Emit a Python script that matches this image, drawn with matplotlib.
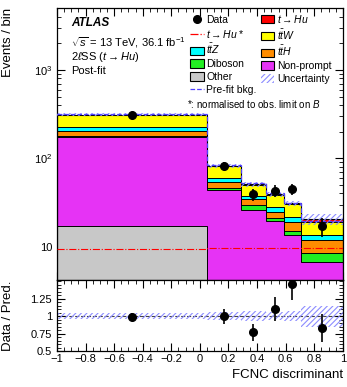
import matplotlib
matplotlib.use("Agg")
import matplotlib.pyplot as plt
import numpy as np
from matplotlib.lines import Line2D
from matplotlib.patches import Patch
from matplotlib.ticker import MultipleLocator, FixedLocator, FixedFormatter, LogLocator, NullFormatter

plt.rcParams["font.family"] = ["Liberation Sans", "DejaVu Sans"]
plt.rcParams["mathtext.fontset"] = "custom"
plt.rcParams["mathtext.rm"] = "Liberation Sans"
plt.rcParams["mathtext.it"] = "Liberation Sans:italic"
plt.rcParams["mathtext.bf"] = "Liberation Sans:bold"
plt.rcParams["hatch.linewidth"] = 0.8

# binning of the FCNC discriminant
edges = [-1.0, 0.05, 0.29, 0.46, 0.585, 0.71, 1.0]

# post-fit backgrounds (events / bin), stacked bottom -> top
other = [17, 2.5, 1.8, 1.5, 1.2, 1.0]
nonprompt = [155, 40.8, 24.1, 18.0, 12.4, 5.7]
diboson = [9, 3.4, 3.6, 1.4, 1.4, 1.7]
tth = [25, 7.3, 5.0, 3.9, 4.1, 3.5]
ttz = [21, 6.6, 3.4, 3.0, 2.3, 1.5]
ttw = [83, 20.5, 12.2, 10.4, 9.0, 5.6]
thu = [2.5, 1.2, 0.8, 0.8, 0.6, 1.6]

# signal normalised to observed limit, pre-fit background
thu_norm = [9.4, 9.7, 9.7, 9.7, 9.7, 9.7]
prefit = [315, 83, 52, 40, 31, 19.5]

# relative uncertainty of the total prediction
rel_unc = [0.04, 0.06, 0.065, 0.06, 0.07, 0.15]

data = [308, 82, 39, 43, 45, 17]

stack = [
    (other, "#c8c8c8", "Other"),
    (nonprompt, "#e633f5", "Non-prompt"),
    (diboson, "#22ee22", "Diboson"),
    (tth, "#ff8c00", r"$t\bar{t}H$"),
    (ttz, "#00ffff", r"$t\bar{t}Z$"),
    (ttw, "#ffff00", r"$t\bar{t}W$"),
    (thu, "#ff0000", r"$t\rightarrow Hu$"),
]

edges = np.array(edges)
centers = 0.5 * (edges[1:] + edges[:-1])
data = np.array(data, dtype=float)

fig = plt.figure(figsize=(3.47, 3.87), dpi=100)
ax = fig.add_axes([0.164, 0.2765, 0.824, 0.7025])
rax = fig.add_axes([0.164, 0.093, 0.824, 0.1835], sharex=ax)

bottom = np.full(len(centers), 1e-3)
for vals, col, lab in stack:
    top = bottom + np.array(vals)
    ax.stairs(top, edges, baseline=bottom, fill=True, facecolor=col,
              edgecolor="none", zorder=2)
    ax.stairs(top, edges, baseline=None, color="black", lw=0.7, zorder=3)
    bottom = top
total = bottom

# total outline with vertical steps
ax.stairs(total, edges, baseline=1e-3, fill=False, color="black", lw=0.8, zorder=3)

unc_col = "#8c8cff"
ax.stairs(total * (1 + np.array(rel_unc)), edges,
          baseline=total * (1 - np.array(rel_unc)), fill=True,
          facecolor="none", edgecolor=unc_col, hatch="//////", lw=0, zorder=4)
ax.stairs(prefit, edges, baseline=None, color="#5040ff", ls="--", lw=0.9, zorder=5)
ax.stairs(thu_norm, edges, baseline=None, color="#ff0000", ls="-.", lw=0.8, zorder=5)

ax.errorbar(centers, data, yerr=np.sqrt(data), fmt="o", color="black",
            ms=5.5, elinewidth=1.2, capsize=0, zorder=6)

ax.set_yscale("log")
ax.set_ylim(4.2, 5000)
ax.set_xlim(-1, 1)
ax.yaxis.set_major_locator(FixedLocator([10, 100, 1000]))
ax.yaxis.set_major_formatter(FixedFormatter(["10", r"$10^2$", r"$10^3$"]))
ax.yaxis.set_minor_locator(LogLocator(base=10, subs=np.arange(2, 10)))
ax.yaxis.set_minor_formatter(NullFormatter())
ax.xaxis.set_major_locator(MultipleLocator(0.2))
ax.xaxis.set_minor_locator(MultipleLocator(0.05))
ax.set_ylabel("Events / bin", fontsize=9.5, loc="top")
ax.yaxis.set_label_coords(-0.15, 1.0)

# labels on the left
ax.text(0.05, 0.945, "ATLAS", transform=ax.transAxes, fontsize=8.5,
        fontweight="bold", style="italic", va="center")
ax.text(0.05, 0.875, r"$\sqrt{s}$ = 13 TeV, 36.1 fb$^{-1}$", transform=ax.transAxes,
        fontsize=8, va="center")
ax.text(0.05, 0.822, r"2$\ell$SS ($t\rightarrow Hu$)", transform=ax.transAxes,
        fontsize=8, va="center")
ax.text(0.05, 0.768, "Post-fit", transform=ax.transAxes, fontsize=8, va="center")

# legend: column-major order
box = dict(edgecolor="black", linewidth=0.8)
h_data = Line2D([], [], marker="o", color="black", ls="none", ms=5.5)
h_sig = Line2D([], [], color="#ff0000", ls="-.", lw=0.9)
h_pre = Line2D([], [], color="#5040ff", ls="--", lw=0.9)
h_unc = Patch(facecolor="none", edgecolor=unc_col, hatch="//////", lw=0)
patches = {lab: Patch(facecolor=col, **box) for _, col, lab in stack}
handles = [h_data, h_sig, patches[r"$t\bar{t}Z$"], patches["Diboson"], patches["Other"], h_pre,
           patches[r"$t\rightarrow Hu$"], patches[r"$t\bar{t}W$"], patches[r"$t\bar{t}H$"],
           patches["Non-prompt"], h_unc]
labels = ["Data", r"$t\rightarrow Hu$ *", r"$t\bar{t}Z$", "Diboson", "Other", "Pre-fit bkg.",
          r"$t\rightarrow Hu$", r"$t\bar{t}W$", r"$t\bar{t}H$", "Non-prompt", "Uncertainty"]
ax.legend(handles, labels, ncol=2, loc="upper left", bbox_to_anchor=(0.44, 1.01),
          frameon=False, fontsize=7.5, handlelength=1.3, handleheight=0.85,
          handletextpad=0.25, columnspacing=0.4, labelspacing=0.27, borderpad=0.2)
ax.text(0.455, 0.648, r"*: normalised to obs. limit on $B$", transform=ax.transAxes,
        fontsize=7, va="center")

# ratio panel
rel = np.array(rel_unc)
rax.stairs(1 + rel, edges, baseline=1 - rel, fill=True, facecolor="none",
           edgecolor=unc_col, hatch="//////", lw=0, zorder=2)
rax.axhline(1, color="#444444", ls="--", lw=0.8, zorder=1)
rax.errorbar(centers, data / total, yerr=np.sqrt(data) / total, fmt="o", color="black",
             ms=5.5, elinewidth=1.2, capsize=0, zorder=5)
rax.set_ylim(0.5, 1.515)
rax.yaxis.set_major_locator(FixedLocator([0.5, 0.75, 1.0, 1.25]))
rax.yaxis.set_major_formatter(FixedFormatter(["0.5", "0.75", "1", "1.25"]))
rax.yaxis.set_minor_locator(MultipleLocator(0.05))
rax.set_xticks(np.arange(-1, 1.01, 0.2))
rax.set_xticklabels(["\u22121", "\u22120.8", "\u22120.6", "\u22120.4", "\u22120.2", "0",
                     "0.2", "0.4", "0.6", "0.8", "1"])
rax.xaxis.set_minor_locator(MultipleLocator(0.05))
rax.set_xlim(-1, 1)
rax.set_ylabel("Data / Pred.", fontsize=9.5)
rax.yaxis.set_label_coords(-0.15, 0.5)
rax.set_xlabel("FCNC discriminant", fontsize=9.5, loc="right")

for a in (ax, rax):
    a.tick_params(which="both", direction="in", top=True, right=True, labelsize=8)
    a.tick_params(which="major", length=6, width=0.8)
    a.tick_params(which="minor", length=3, width=0.6)
    for s in a.spines.values():
        s.set_linewidth(0.9)
ax.tick_params(axis="x", labelbottom=False)
rax.tick_params(axis="x", pad=2)

fig.savefig("out.png", dpi=100)
